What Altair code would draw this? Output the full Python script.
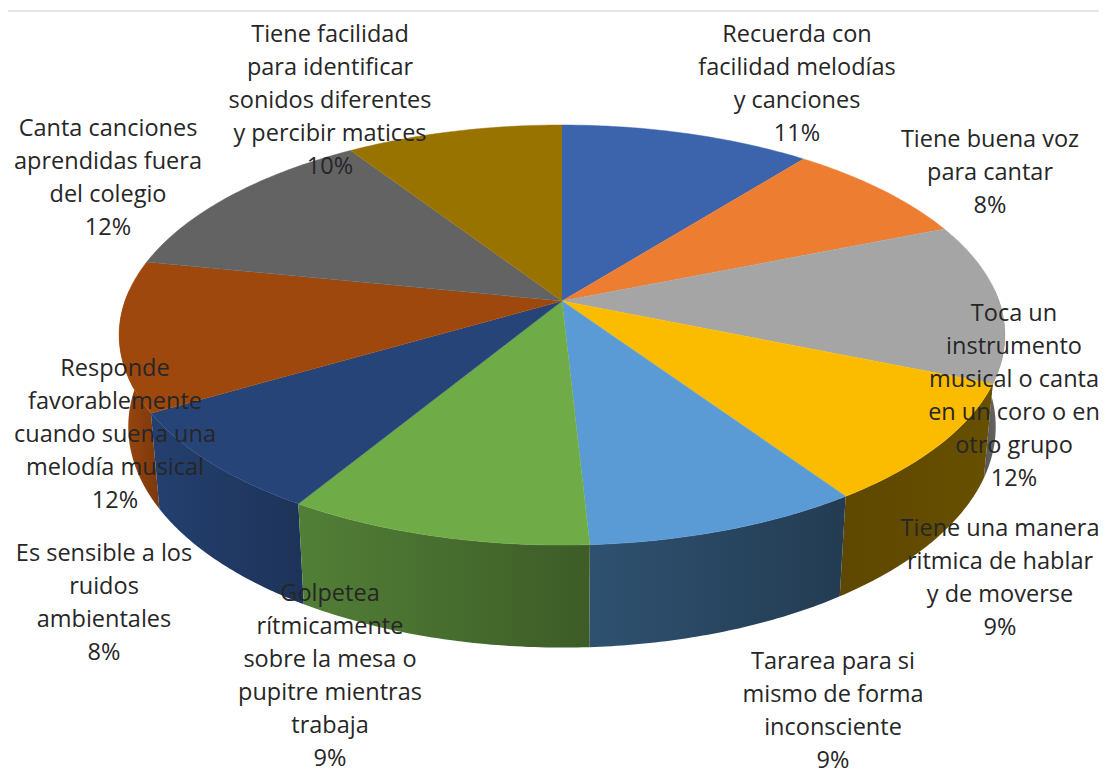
import math
import altair as alt
import pandas as pd

# Labels printed on the chart
names = ["Recuerda con\nfacilidad melodías\ny canciones", "Tiene buena voz\npara cantar",
         "Toca un\ninstrumento\nmusical o canta\nen un coro o en\notro grupo",
         "Tiene una manera\nritmica de hablar\ny de moverse", "Tararea para si\nmismo de forma\ninconsciente",
         "Golpetea\nrítmicamente\nsobre la mesa o\npupitre mientras\ntrabaja", "Es sensible a los\nruidos\nambientales",
         "Responde\nfavorablemente\ncuando suena una\nmelodía musical", "Canta canciones\naprendidas fuera\ndel colegio",
         "Tiene facilidad\npara identificar\nsonidos diferentes\ny percibir matices"]
printed = ["11%", "8%", "12%", "9%", "9%", "9%", "8%", "12%", "12%", "10%"]
# Slice shares as drawn
shares = [10.7, 8.2, 12.3, 9.3, 8.65, 9.55, 7.9, 11.55, 12.6, 9.25]
top_colors = ["#3B64AD", "#ED7D31", "#A5A5A5", "#FBBC00", "#5B9BD5", "#6FAC47", "#264478", "#9E480E", "#636363", "#997300"]
# Side-wall gradients (left colour, right colour) for slices whose wall shows
wall_colors = {2: ("#555555", "#6E6E6E"), 3: ("#5E4700", "#675000"), 4: ("#2F5170", "#233C52"),
               5: ("#527F37", "#3D5C27"), 6: ("#24406F", "#1D3359"), 7: ("#9E480E", "#7A380B")}
label_x = [797, 990, 1014, 1000, 833, 330, 104, 115, 108, 330]
label_y = [34.5, 139.5, 313.5, 528.5, 661.5, 593.5, 553.5, 368.5, 128.5, 34.5]
LINE = 33

CX, CY, A, B, K = 562, 301, 437, 204.5, -0.162
CYB, AB, BB = 391, 428, 215


def top(a):
    u, v = math.sin(a), -math.cos(a)
    d = 1 + K * v
    return CX + A * u / d, CY + B * v / d


def bot(a):
    u, v = math.sin(a), -math.cos(a)
    d = 1 + K * v
    return CX + AB * u / d, CYB + BB * v / d


def arc(f, a0, a1, n=50):
    return [f(a0 + (a1 - a0) * j / n) for j in range(n + 1)]


def shape(points):
    return alt.Chart(pd.DataFrame({"x": [p[0] for p in points], "y": [p[1] for p in points], "i": range(len(points))}))


x_enc = alt.X("x:Q", axis=None, scale=alt.Scale(domain=[8, 1099], nice=False, zero=False))
y_enc = alt.Y("y:Q", axis=None, scale=alt.Scale(domain=[774, 8], nice=False, zero=False))

edges = [0.0]
for s in shares:
    edges.append(edges[-1] + s / 100 * 2 * math.pi)

layers = []
layers.append(alt.Chart(pd.DataFrame({"x": [8], "x2": [1099], "y": [11]})).mark_rule(color="#E6E6E6", strokeWidth=2)
              .encode(x=x_enc, x2="x2:Q", y=y_enc))

wall_order = [2, 7, 3, 6, 4, 5]
for idx in wall_order:
    a0, a1 = edges[idx], edges[idx + 1]
    a0 = max(a0, math.pi / 2 - 0.05) if idx == 2 else a0
    a1 = min(a1, 3 * math.pi / 2 + 0.05) if idx == 7 else a1
    pts = arc(top, a0, a1) + arc(bot, a1, a0)
    c0, c1 = wall_colors[idx]
    grad = alt.LinearGradient(gradient="linear", x1=0, x2=1, y1=0, y2=0,
                              stops=[alt.GradientStop(color=c0, offset=0), alt.GradientStop(color=c1, offset=1)])
    layers.append(shape(pts).mark_line(fill=grad, strokeWidth=0, interpolate="linear")
                  .encode(x=x_enc, y=y_enc, order="i:Q"))

for idx, color in enumerate(top_colors):
    pts = [(CX, CY)] + arc(top, edges[idx], edges[idx + 1])
    layers.append(shape(pts).mark_line(fill=color, stroke=color, strokeWidth=0.5)
                  .encode(x=x_enc, y=y_enc, order="i:Q"))

rows = []
for name, pct, lx, ly in zip(names, printed, label_x, label_y):
    for j, t in enumerate(name.split("\n") + [pct]):
        rows.append({"x": lx, "y": ly + j * LINE, "t": t})
layers.append(alt.Chart(pd.DataFrame(rows)).mark_text(font="Open Sans", fontSize=23.5, color="#262626", baseline="middle", align="center")
              .encode(x=x_enc, y=y_enc, text="t:N"))

chart = alt.layer(*layers).properties(width=1091, height=766, padding=0, autosize=alt.AutoSizeParams(type="none"),
                                      background="white").configure_view(stroke=None)
chart.save("out.html", embed_options={"renderer": "svg", "actions": False})
